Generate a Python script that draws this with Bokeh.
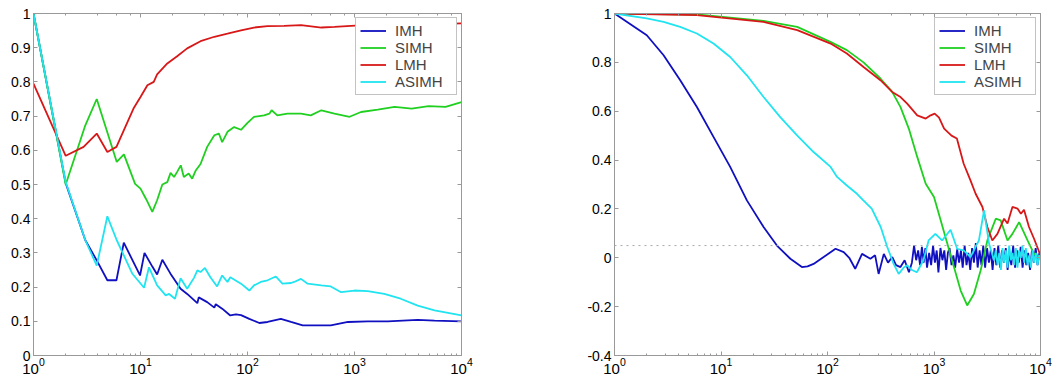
from bokeh.plotting import figure
from bokeh.layouts import row
from bokeh.models import (LogAxis, LinearAxis, SingleIntervalTicker, CustomJSTickFormatter,
                          Span, Legend, LegendItem, Range1d)
from bokeh.embed import file_html
from bokeh.resources import INLINE

# ---------------- data: left panel ----------------
L_IMH_x = [1, 2, 3.05, 3.9, 4.9, 5.96, 6.98, 9.9, 10.9, 12.9, 14.3, 16, 19, 23.7, 27.3, 34, 35, 42, 49, 50.5,
           58, 69, 78, 87, 104, 129, 154, 205, 255, 328, 390, 600, 870, 1330, 2050, 3900, 5600, 10000]
L_IMH_y = [1, 0.504, 0.337, 0.278, 0.22, 0.22, 0.33, 0.234, 0.30, 0.26, 0.237, 0.28, 0.24, 0.195, 0.18, 0.153, 0.17, 0.156, 0.14, 0.15,
           0.137, 0.117, 0.12, 0.118, 0.107, 0.095, 0.098, 0.107, 0.098, 0.088, 0.088, 0.088, 0.098, 0.10, 0.10, 0.104, 0.102, 0.10]

L_SIMH_x = [1, 2, 3.05, 3.9, 6.0, 7, 8.9, 10, 11.3, 12.9, 14.3, 16, 17.8, 19.1, 20.6, 22, 23.8, 25.4, 28.2, 30.4,
            32.7, 36.4, 42, 49, 54, 58, 65, 75, 87, 100, 115, 143, 160, 168, 190, 236, 316, 390, 490, 650,
            900, 1150, 1650, 2370, 3420, 4930, 7100, 10000]
L_SIMH_y = [1, 0.50, 0.673, 0.75, 0.566, 0.588, 0.502, 0.488, 0.457, 0.42, 0.454, 0.50, 0.507, 0.534, 0.522, 0.537, 0.556, 0.522, 0.532, 0.517,
            0.54, 0.56, 0.61, 0.644, 0.649, 0.624, 0.654, 0.668, 0.66, 0.68, 0.698, 0.702, 0.707, 0.717, 0.702, 0.707, 0.707, 0.702, 0.717, 0.707,
            0.698, 0.712, 0.719, 0.727, 0.722, 0.729, 0.727, 0.741]

L_LMH_x = [1, 2, 2.94, 3.9, 4.9, 5.96, 7.2, 8.6, 10, 11.6, 13.3, 14.3, 17.8, 22, 27.3, 36.4, 49, 65, 87, 115,
           154, 220, 316, 490, 650, 930, 1330, 2700, 5600, 10000]
L_LMH_y = [0.795, 0.584, 0.61, 0.649, 0.595, 0.61, 0.668, 0.722, 0.756, 0.79, 0.80, 0.822, 0.854, 0.875, 0.898, 0.919, 0.932, 0.941, 0.951, 0.959,
           0.963, 0.964, 0.966, 0.959, 0.961, 0.964, 0.967, 0.973, 0.969, 0.971]

L_ASIMH_x = [1, 2, 3.05, 3.9, 4.9, 6, 8.4, 10.8, 12, 14.3, 17.2, 18.5, 21, 23.7, 27.3, 31.6, 34, 36.4, 40, 45,
             52, 58, 65, 69, 87, 104, 115, 133, 154, 184, 212, 255, 273, 316, 365, 490, 600, 750, 1000, 1330,
             1900, 2700, 3900, 5600, 10000]
L_ASIMH_y = [1, 0.507, 0.337, 0.263, 0.407, 0.337, 0.239, 0.198, 0.258, 0.205, 0.176, 0.18, 0.166, 0.226, 0.195, 0.227, 0.249, 0.244, 0.256, 0.229,
             0.202, 0.234, 0.215, 0.229, 0.21, 0.19, 0.205, 0.215, 0.22, 0.231, 0.21, 0.212, 0.215, 0.224, 0.21, 0.205, 0.202, 0.185, 0.19, 0.188,
             0.18, 0.166, 0.146, 0.132, 0.117]

# ---------------- data: right panel ----------------
R_IMH_x = [1, 2.01, 2.89, 4.14, 5.94, 8.5, 12.2, 17.5, 25.1, 33.5, 44.8, 57.5, 65, 74, 92, 119, 142, 160, 182, 211,
           253, 280, 302, 338, 370, 406, 440, 484, 530, 582, 620,
           650, 680, 710, 740, 770, 800, 830, 860, 900, 940, 980, 1020, 1060, 1100, 1150, 1200, 1250, 1300, 1350, 1400,
           1460, 1520, 1580, 1650, 1720, 1790, 1860, 1940, 2020, 2100, 2190, 2280, 2370, 2470, 2570, 2680, 2790, 2900, 3020, 3150,
           3280, 3410, 3550, 3700, 3850, 4010, 4180, 4350, 4530, 4720, 4910, 5110, 5320, 5540, 5770, 6010, 6260, 6520, 6790, 7070,
           7360, 7660, 7980, 8310, 8650, 9010, 9380, 9770, 10000]
R_IMH_y = [1, 0.911, 0.829, 0.727, 0.617, 0.495, 0.372, 0.235, 0.126, 0.05, -0.004, -0.038, -0.035, -0.025, 0.003, 0.037, 0.023, 0.0, -0.045, 0.016,
           -0.004, 0.01, -0.066, 0.016, -0.02, 0.003, -0.03, -0.038, -0.01, -0.059, -0.02,
           0.05, -0.01, 0.03, -0.03, 0.045, -0.02, 0.04, -0.04, 0.02, -0.03, 0.05, -0.02, 0.03, -0.06, 0.04, -0.01, 0.03, -0.05, 0.02, 0.04,
           -0.03, 0.01, -0.04, 0.035, -0.02, 0.03, -0.04, 0.05, -0.03, 0.02, -0.05, 0.04, -0.02, 0.06, -0.04, 0.03, -0.03, 0.05, -0.04, 0.04,
           -0.02, 0.03, -0.05, 0.04, -0.03, 0.05, -0.04, 0.03, -0.02, 0.04, -0.05, 0.02, -0.03, 0.05, -0.04, 0.03, -0.02, 0.045, -0.04, 0.03,
           -0.03, 0.02, -0.05, 0.03, -0.02, 0.04, -0.03, 0.02, 0.0]

R_SIMH_x = [1, 5.94, 25.1, 51.9, 106.6, 152, 218, 314, 405, 485, 580, 696, 836, 1000, 1157, 1335, 1540, 1780, 2050, 2370,
            2740, 3170, 3800, 4230, 4900, 5450, 6300, 7560, 8700, 10000]
R_SIMH_y = [1, 0.996, 0.97, 0.945, 0.884, 0.85, 0.80, 0.734, 0.679, 0.617, 0.529, 0.413, 0.303, 0.249, 0.153, 0.057, -0.038, -0.134, -0.195, -0.148,
            -0.052, 0.071, 0.16, 0.153, 0.071, 0.098, 0.146, 0.071, 0.016, 0.003]

R_LMH_x = [1, 5.94, 25, 52, 107, 152, 218, 314, 405, 485, 560, 696, 836, 930, 1015, 1115, 1245, 1460, 1640, 1900,
           2200, 2460, 2850, 3170, 3530, 3940, 4550, 4900, 5450, 6100, 6550, 7000, 7800, 8700, 10000]
R_LMH_y = [1, 0.993, 0.966, 0.932, 0.877, 0.836, 0.781, 0.727, 0.679, 0.658, 0.631, 0.583, 0.57, 0.583, 0.59, 0.574, 0.529, 0.50, 0.488, 0.385,
           0.317, 0.262, 0.208, 0.126, 0.071, 0.098, 0.16, 0.14, 0.208, 0.201, 0.18, 0.197, 0.126, 0.078, 0.01]

R_ASIMH_x = [1, 2.01, 2.89, 4.14, 5.94, 8.5, 12.2, 17.5, 25.1, 36, 51.8, 74, 107, 123, 152, 189, 217, 260, 316, 364,
             418, 466, 520, 560, 620, 690, 795, 890, 1030, 1190, 1430, 1650, 1900, 2200, 2640, 2950, 3290, 3670,
             3800, 3950, 4100, 4250, 4400, 4560, 4730, 4900, 5080, 5270, 5460, 5660, 5870, 6080, 6300, 6530, 6770, 7020,
             7280, 7550, 7830, 8120, 8420, 8730, 9050, 9380, 9720, 10000]
R_ASIMH_y = [1, 0.98, 0.966, 0.945, 0.918, 0.877, 0.822, 0.747, 0.658, 0.576, 0.501, 0.433, 0.372, 0.331, 0.296, 0.262, 0.235, 0.201, 0.126, 0.044,
             -0.025, -0.066, -0.04, -0.031, -0.05, -0.059, -0.011, 0.071, 0.098, 0.071, 0.115, 0.037, 0.03, 0.003, 0.071, 0.194, 0.057, -0.011,
             0.03, -0.03, 0.02, -0.05, 0.04, -0.02, 0.03, -0.04, 0.05, -0.01, 0.02, -0.03, 0.04, -0.04, 0.03, 0.0, 0.05, -0.02,
             0.04, -0.03, 0.01, -0.04, 0.03, -0.02, 0.02, -0.03, 0.01, 0.0]

SERIES = ["IMH", "SIMH", "LMH", "ASIMH"]
COLORS = ["#1010c0", "#20d020", "#d81818", "#20e4f0"]
THRESHOLD = 0.05

FONT = "Liberation Sans"
GREY = "#999999"

NUM_FMT = CustomJSTickFormatter(code="return String(parseFloat(tick.toFixed(3)));")
BLANK_FMT = CustomJSTickFormatter(code="return ' ';")


def style_axis(ax, show_labels=True):
    ax.axis_line_color = GREY
    ax.major_tick_line_color = GREY
    ax.minor_tick_line_color = GREY
    ax.major_tick_in = 4
    ax.major_tick_out = 0
    ax.minor_tick_in = 2
    ax.minor_tick_out = 0
    ax.major_label_text_font = FONT
    ax.major_label_text_color = "black"
    if show_labels:
        ax.major_label_text_font_size = "14px"
    else:
        ax.major_label_text_font_size = "2px"
        ax.formatter = BLANK_FMT
    ax.major_label_standoff = 0


def make_fig(xs, ys, y0, y1, ystep, width, border_left, border_right):
    p = figure(width=width, height=383, x_axis_type="log", x_range=Range1d(1, 10000),
               y_range=Range1d(y0, y1), output_backend="svg", toolbar_location=None,
               min_border_left=border_left, min_border_right=border_right,
               min_border_top=13, min_border_bottom=28)
    p.grid.visible = False
    p.outline_line_color = GREY
    p.background_fill_color = "white"
    p.border_fill_color = "white"
    xax = p.xaxis[0]
    style_axis(xax)
    xax.major_label_text_font_size = "15px"
    xax.major_label_standoff = 2
    yax = p.yaxis[0]
    yax.ticker = SingleIntervalTicker(interval=ystep, num_minor_ticks=0)
    yax.formatter = NUM_FMT
    style_axis(yax)
    yax.major_label_standoff = 3
    yax.minor_tick_line_color = None
    top = LogAxis()
    style_axis(top, show_labels=False)
    p.add_layout(top, "above")
    right = LinearAxis(ticker=SingleIntervalTicker(interval=ystep, num_minor_ticks=0))
    style_axis(right, show_labels=False)
    right.minor_tick_line_color = None
    p.add_layout(right, "right")

    items = []
    for name, color, x, y in zip(SERIES, COLORS, xs, ys):
        r = p.line(x, y, line_color=color, line_width=1.8)
        items.append(LegendItem(label=name, renderers=[r]))
    leg = Legend(items=items, location="top_right", margin=4, padding=4, spacing=0,
                 label_height=15, glyph_height=15, glyph_width=26, label_standoff=9, label_width=57,
                 label_text_font=FONT, label_text_font_size="15px", label_text_line_height=1.0,
                 border_line_color="#888888", border_line_width=1,
                 background_fill_color="white", background_fill_alpha=1)
    p.add_layout(leg)
    return p


p1 = make_fig([L_IMH_x, L_SIMH_x, L_LMH_x, L_ASIMH_x], [L_IMH_y, L_SIMH_y, L_LMH_y, L_ASIMH_y],
              0, 1, 0.1, 530, 33, 69)
p2 = make_fig([R_IMH_x, R_SIMH_x, R_LMH_x, R_ASIMH_x], [R_IMH_y, R_SIMH_y, R_LMH_y, R_ASIMH_y],
              -0.4, 1, 0.2, 522, 84, 12)
p2.add_layout(Span(location=THRESHOLD, dimension="width", line_color="#aaaaaa",
                   line_dash="dotted", line_width=1), "center")

layout = row(p1, p2)
open("out.html", "w").write(file_html(layout, INLINE))
